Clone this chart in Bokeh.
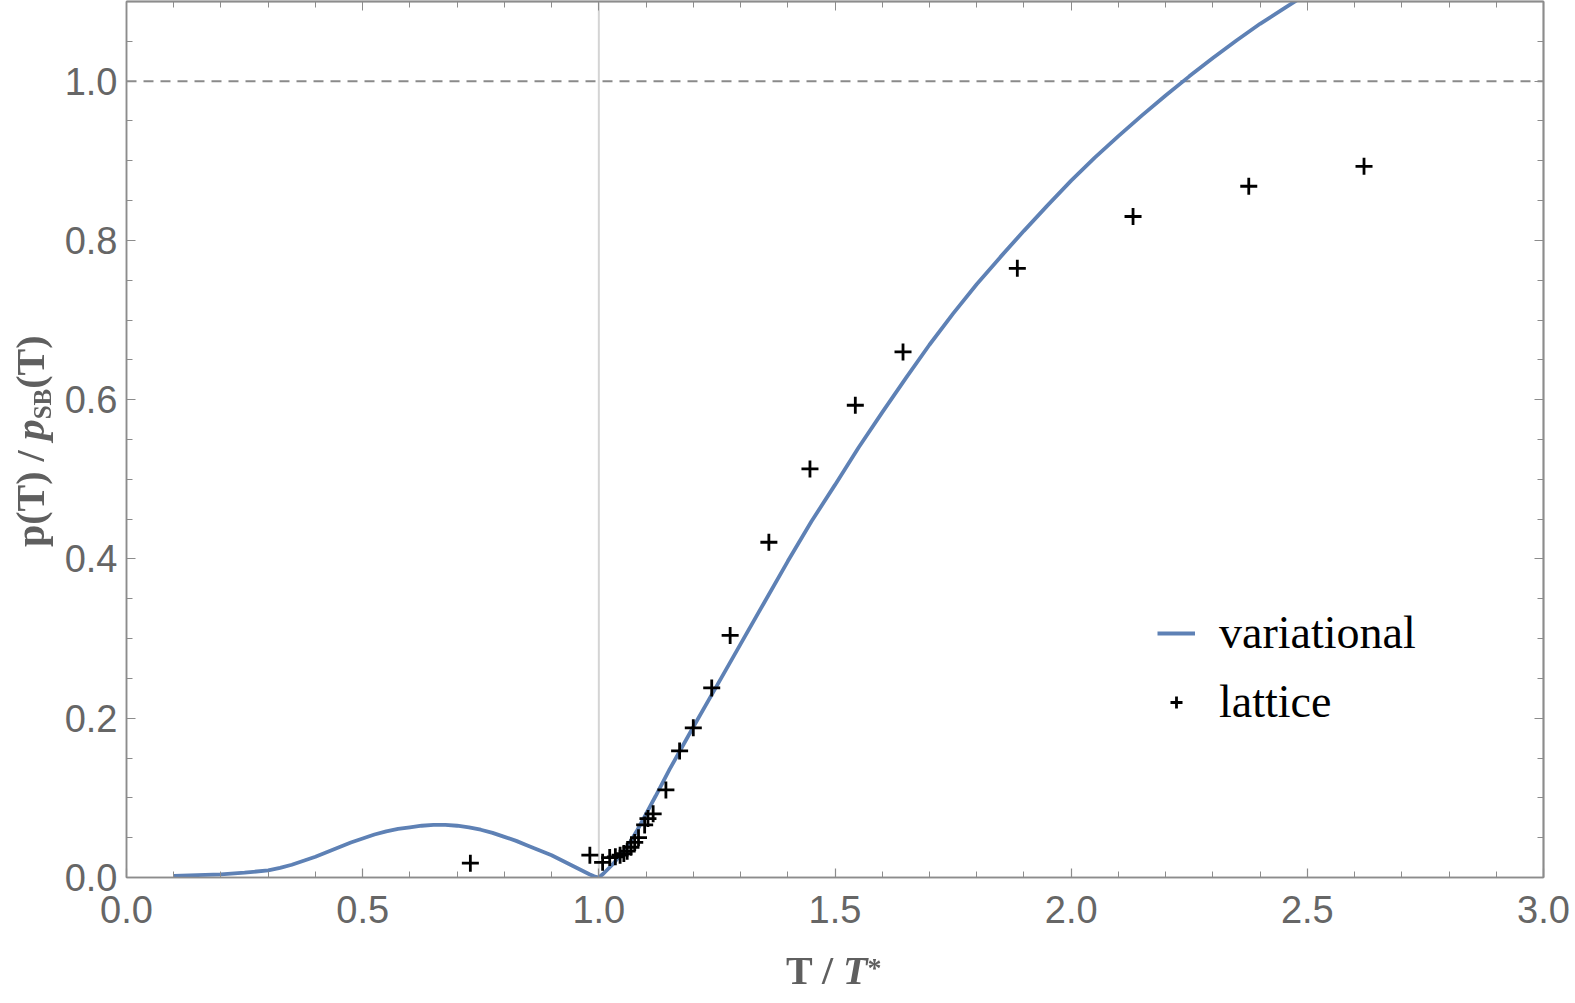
from bokeh.plotting import figure
from bokeh.layouts import column
from bokeh.models import (Range1d, LinearAxis, FixedTicker, PrintfTickFormatter,
                          Span, Legend, LegendItem, Div)
from bokeh.embed import file_html
from bokeh.resources import INLINE

# variational pressure ratio p(T)/p_SB(T) versus T/T*
t_var = [0.10, 0.15, 0.20, 0.25, 0.30, 0.325, 0.35, 0.375, 0.40, 0.425, 0.45, 0.475,
         0.50, 0.525, 0.55, 0.575, 0.60, 0.625, 0.65, 0.675, 0.70, 0.725, 0.75, 0.775,
         0.80, 0.825, 0.85, 0.875, 0.90, 0.92, 0.94, 0.96, 0.98, 0.99, 1.00, 1.01,
         1.02, 1.03, 1.04, 1.05, 1.06, 1.07, 1.08, 1.09, 1.10, 1.12, 1.15, 1.20,
         1.25, 1.30, 1.35, 1.40, 1.45, 1.50, 1.55, 1.60, 1.65, 1.70, 1.75, 1.80,
         1.85, 1.90, 1.95, 2.00, 2.05, 2.10, 2.15, 2.20, 2.25, 2.30, 2.35, 2.40,
         2.45, 2.50]
p_var = [0.002, 0.003, 0.004, 0.006, 0.009, 0.012, 0.016, 0.021, 0.026, 0.032, 0.038, 0.044,
         0.049, 0.054, 0.058, 0.061, 0.063, 0.065, 0.066, 0.066, 0.065, 0.063, 0.060, 0.056,
         0.051, 0.046, 0.040, 0.034, 0.028, 0.022, 0.016, 0.010, 0.004, 0.0015, 0.000, 0.005,
         0.011, 0.017, 0.024, 0.031, 0.039, 0.048, 0.058, 0.069, 0.080, 0.102, 0.136, 0.189,
         0.241, 0.293, 0.345, 0.397, 0.447, 0.493, 0.540, 0.584, 0.627, 0.669, 0.708, 0.745,
         0.779, 0.812, 0.844, 0.875, 0.904, 0.931, 0.957, 0.982, 1.006, 1.029, 1.051, 1.072,
         1.091, 1.110]

# lattice data
t_lat = [0.728, 0.981, 1.008, 1.023, 1.035, 1.045, 1.053, 1.060, 1.068, 1.076, 1.084,
         1.097, 1.104, 1.115, 1.142, 1.171, 1.200, 1.239, 1.278, 1.360, 1.447, 1.543,
         1.644, 1.886, 2.131, 2.376, 2.620]
p_lat = [0.018, 0.028, 0.019, 0.025, 0.026, 0.028, 0.030, 0.033, 0.038, 0.044, 0.050,
         0.066, 0.074, 0.080, 0.110, 0.159, 0.188, 0.238, 0.304, 0.421, 0.513, 0.593,
         0.660, 0.765, 0.830, 0.868, 0.893]

x_major = [0.0, 0.5, 1.0, 1.5, 2.0, 2.5, 3.0]
x_minor = [i / 10 for i in range(31)]
y_major = [0.0, 0.2, 0.4, 0.6, 0.8, 1.0]
y_minor = [i / 20 for i in range(23)]

W, H = 1575, 1000
FL, FR, FT, FB = 126, 1543, 1, 877

p = figure(width=W, height=H, x_range=Range1d(0.0, 3.0), y_range=Range1d(0.0, 1.1),
           output_backend="svg", toolbar_location=None,
           min_border_left=FL, min_border_right=W - FR,
           min_border_top=FT, min_border_bottom=H - FB)
p.grid.visible = False
p.outline_line_color = "#8c8c8c"
p.outline_line_width = 1.5
p.background_fill_color = "white"
p.border_fill_color = "white"

AX = "#8c8c8c"
LBL = "#666666"


def style_axis(ax):
    ax.axis_line_color = AX
    ax.axis_line_width = 1.5
    ax.major_tick_line_color = AX
    ax.minor_tick_line_color = AX
    ax.major_tick_line_width = 1.2
    ax.minor_tick_line_width = 1.0
    ax.major_tick_in = 9
    ax.major_tick_out = 0
    ax.minor_tick_in = 6
    ax.minor_tick_out = 0


p.xaxis.ticker = FixedTicker(ticks=x_major, minor_ticks=x_minor)
p.yaxis.ticker = FixedTicker(ticks=y_major, minor_ticks=y_minor)
for ax, standoff in ((p.xaxis[0], 18), (p.yaxis[0], 9)):
    style_axis(ax)
    ax.formatter = PrintfTickFormatter(format="%.1f")
    ax.major_label_text_font = "Liberation Sans"
    ax.major_label_text_font_size = "38px"
    ax.major_label_text_color = LBL
    ax.major_label_standoff = standoff

# mirrored frame ticks on the top and right edges (no labels)
for side, minor, major in (("above", x_minor, x_major), ("right", y_minor, y_major)):
    for ticks, length in ((minor, 6), (major, 9)):
        ax = LinearAxis(ticker=FixedTicker(ticks=[], minor_ticks=ticks))
        style_axis(ax)
        ax.minor_tick_in = length
        p.add_layout(ax, side)

# reference lines
p.add_layout(Span(location=1.0, dimension="height", line_color="#d4d4d4",
                  line_width=2, level="underlay"))
p.add_layout(Span(location=1.0, dimension="width", line_color="#8a8a8a",
                  line_width=2, line_dash="10 7", level="underlay"))

line_r = p.line(t_var, p_var, line_color="#5E81B5", line_width=3.8)
pts_r = p.scatter(t_lat, p_lat, marker="cross", size=17, line_color="black",
                  line_width=2.8)

legend = Legend(items=[LegendItem(label="variational", renderers=[line_r]),
                       LegendItem(label="lattice", renderers=[pts_r])],
                location=(1031, 149), padding=0, margin=0, spacing=16,
                glyph_width=38, glyph_height=30, label_standoff=24,
                label_text_font="Liberation Serif", label_text_font_size="46px",
                label_text_color="black", border_line_color=None,
                background_fill_alpha=0)
p.add_layout(legend)

# axis titles with mixed upright / italic / sub- and superscript parts
TITLE = ("position:fixed;margin:0;font-family:'Liberation Serif',serif;"
         "font-weight:bold;font-size:40px;line-height:40px;color:#5f5f5f;"
         "white-space:nowrap;")
x_title = (f'<div style="{TITLE}left:786px;top:951px;">T / <i>T</i>'
           '<span style="font-size:28px;position:relative;top:-7px">*</span></div>')
y_title = (f'<div style="{TITLE}left:10px;top:547px;transform-origin:0 0;'
           'transform:rotate(-90deg);">p(T) / <i style="font-size:42px">p</i>'
           '<span style="font-size:25px;position:relative;top:7px">SB</span>(T)</div>')
titles = Div(text=x_title + y_title, width=W, height=3, margin=0)

layout = column(p, titles, spacing=0)
open("out.html", "w").write(file_html(layout, INLINE))
